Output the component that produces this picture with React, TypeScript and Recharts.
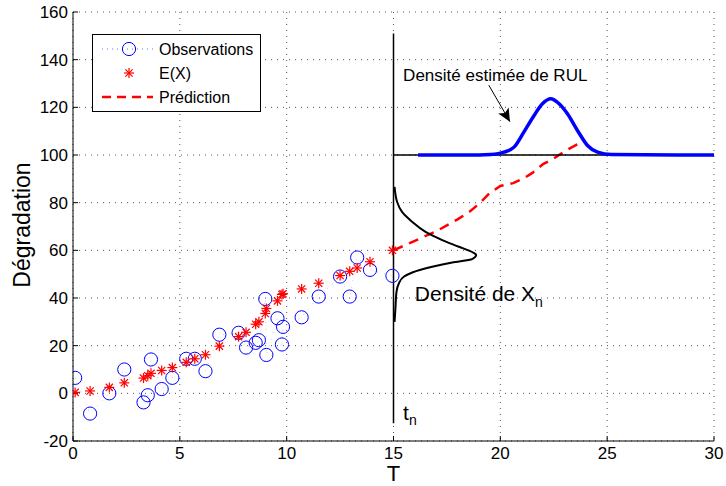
import {
  ComposedChart,
  Line,
  XAxis,
  YAxis,
  CartesianGrid,
  ReferenceDot,
} from "recharts"

// observations and filter estimate share the same time stamps
const times = [
  0.1, 0.8, 1.7, 2.4, 3.3, 3.5, 3.65, 4.15, 4.65, 5.3, 5.7, 6.2, 6.85, 7.75,
  8.1, 8.55, 8.7, 9.0, 9.05, 9.57, 9.78, 9.83, 10.7, 11.5, 12.5, 12.95, 13.3,
  13.9, 14.95,
]
const observations = [
  6.5, -8.5, 0, 10, -3.8, -0.8, 14.2, 1.8, 6.5, 14.5, 14.5, 9.3, 24.6, 25.4,
  19.2, 21.2, 22.3, 39.6, 16.1, 31.5, 20.5, 27.9, 31.9, 40.6, 49, 40.6, 57,
  51.8, 49.3,
]
const expected = [
  0.4, 1, 2.5, 4.4, 6.4, 7.4, 8.4, 9.6, 10.8, 13, 14.5, 16.2, 19.8, 23.8, 25.6,
  29, 30, 33.5, 35.6, 38.8, 41.5, 41.8, 43.8, 46.2, 49.4, 51.2, 52.6, 55.2, 60,
]

const predT = [15, 16, 17, 18, 18.6, 19, 19.5, 20, 20.6, 21.1, 21.5, 22, 22.5, 23, 23.75]
const predY = [60, 64, 68, 73, 76.5, 79.5, 84, 87, 88.2, 90.2, 92.5, 96.2, 98.5, 101.5, 105.2]

// density of X_n drawn sideways at t_n (bottom to top)
const xnX = [15.05, 15.09, 15.14, 15.25, 15.48, 15.88, 16.81, 17.75, 18.68, 18.87, 18.72, 18.06, 17.28, 16.5, 15.88, 15.4, 15.17, 15.05]
const xnY = [30, 35.6, 42.6, 46.1, 48.9, 50.7, 53.1, 54.9, 56.3, 58, 59.1, 61.5, 64.3, 67.7, 71.9, 76.1, 80.3, 86.6]

// estimated RUL density on the threshold line
const rulX = [16.15, 19.0, 19.55, 20.17, 20.64, 21.1, 21.58, 21.97, 22.36, 22.75, 23.14, 23.61, 24.08, 24.55, 25.2, 30]
const rulY = [100, 100, 100.2, 101.2, 103.3, 109.6, 116.6, 121.5, 123.6, 121.5, 117.3, 110.3, 104, 101.2, 100.2, 100]

const tnLine = [-12.5, 151]
const thresholdX = [15, 28.1]
const threshold = 100
const arrowX = [19.46, 20.45]
const arrowY = [129.3, 114]

const xTicks = [0, 5, 10, 15, 20, 25, 30]
const yTicks = [-20, 0, 20, 40, 60, 80, 100, 120, 140, 160]

const FONT = "'Liberation Sans', Arial, Helvetica, sans-serif"

const obsData = times.map((x, i) => ({ x, y: observations[i] }))
const expData = times.map((x, i) => ({ x, y: expected[i] }))
const predData = predT.map((x, i) => ({ x, y: predY[i] }))
const xnData = xnX.map((x, i) => ({ x, y: xnY[i] }))
const rulData = rulX.map((x, i) => ({ x, y: rulY[i] }))
const tnData = tnLine.map((y) => ({ x: 15, y }))
const thrData = thresholdX.map((x) => ({ x, y: threshold }))
const arrowData = arrowX.map((x, i) => ({ x, y: arrowY[i] }))

// eslint-disable-next-line @typescript-eslint/no-explicit-any
function CircleDot(props: any) {
  const { cx, cy, index } = props
  if (cx == null || cy == null) return null
  return <circle key={index} cx={cx} cy={cy} r={6.6} fill="none" stroke="#0000ff" strokeWidth={1} />
}

function Star({ cx, cy }: { cx: number; cy: number }) {
  const a = 5
  const d = 3.6
  return (
    <g stroke="#ff0000" strokeWidth={1.2}>
      <line x1={cx - a} y1={cy} x2={cx + a} y2={cy} />
      <line x1={cx} y1={cy - a} x2={cx} y2={cy + a} />
      <line x1={cx - d} y1={cy - d} x2={cx + d} y2={cy + d} />
      <line x1={cx - d} y1={cy + d} x2={cx + d} y2={cy - d} />
    </g>
  )
}

// eslint-disable-next-line @typescript-eslint/no-explicit-any
function StarDot(props: any) {
  const { cx, cy, index } = props
  if (cx == null || cy == null) return null
  return <Star key={index} cx={cx} cy={cy} />
}

// eslint-disable-next-line @typescript-eslint/no-explicit-any
function ArrowHead(props: any) {
  const { cx, cy, index } = props
  if (index !== 1 || cx == null) return <g key={index} />
  const ang = 60
  return (
    <polygon
      key={index}
      points="0,0 -13,-6 -10,0 -13,6"
      fill="#000"
      transform={`translate(${cx},${cy}) rotate(${ang})`}
    />
  )
}

// eslint-disable-next-line @typescript-eslint/no-explicit-any
function YLabel(_props: any) {
  return (
    <text
      transform="translate(30,225) rotate(-90)"
      textAnchor="middle"
      fontSize={23}
      fontFamily={FONT}
      fill="#000"
    >
      Dégradation
    </text>
  )
}

function Legend() {
  return (
    <svg
      width={169}
      height={78}
      style={{ position: "absolute", left: 92, top: 34 }}
    >
      <rect x={0.5} y={0.5} width={168} height={77} fill="#fff" stroke="#000" strokeWidth={1} />
      <g fontFamily={FONT} fontSize={16} fill="#000">
        <line x1={10} y1={15} x2={61} y2={15} stroke="#6f6fff" strokeDasharray="1 4" />
        <circle cx={37} cy={15} r={6.6} fill="none" stroke="#0000ff" />
        <text x={67} y={21}>Observations</text>
        <Star cx={37} cy={39} />
        <text x={67} y={45}>E(X)</text>
        <line x1={10} y1={63} x2={61} y2={63} stroke="#ff0000" strokeWidth={2.5} strokeDasharray="9 6" />
        <text x={67} y={69}>Prédiction</text>
      </g>
    </svg>
  )
}

const tickStyle = { fill: "#000", fontSize: 17, fontFamily: FONT }
const axisStroke = { stroke: "#000", strokeWidth: 1 }

export default function App() {
  return (
    <div style={{ position: "relative", width: 726, height: 486, background: "#fff" }}>
      <style>{"body{margin:0}"}</style>
      <ComposedChart
        width={726}
        height={486}
        margin={{ top: 12, right: 12, left: 0, bottom: 0 }}
      >
        <XAxis
          xAxisId="b"
          type="number"
          dataKey="x"
          domain={[0, 30]}
          ticks={xTicks}
          allowDataOverflow
          height={45}
          tickSize={-5}
          tickMargin={11}
          tick={tickStyle}
          axisLine={axisStroke}
          tickLine={axisStroke}
          label={{ value: "T", position: "insideBottom", offset: 5, fontSize: 22, fill: "#000", fontFamily: FONT }}
        />
        <XAxis
          xAxisId="t"
          orientation="top"
          type="number"
          dataKey="x"
          domain={[0, 30]}
          ticks={xTicks}
          allowDataOverflow
          height={0}
          tickSize={-5}
          tick={false}
          axisLine={axisStroke}
          tickLine={axisStroke}
        />
        <YAxis
          yAxisId="l"
          type="number"
          dataKey="y"
          domain={[-20, 160]}
          ticks={yTicks}
          allowDataOverflow
          width={73}
          tickSize={-5}
          tickMargin={10}
          tick={tickStyle}
          axisLine={axisStroke}
          tickLine={axisStroke}
          label={<YLabel />}
        />
        <YAxis
          yAxisId="r"
          orientation="right"
          type="number"
          dataKey="y"
          domain={[-20, 160]}
          ticks={yTicks}
          allowDataOverflow
          width={0}
          tickSize={-5}
          tick={false}
          axisLine={axisStroke}
          tickLine={axisStroke}
        />
        <CartesianGrid
          xAxisId="b"
          yAxisId="l"
          stroke="#555"
          strokeDasharray="1 5"
        />
        <Line
          xAxisId="b"
          yAxisId="l"
          data={obsData}
          dataKey="y"
          type="linear"
          stroke="#6f6fff"
          strokeOpacity={0.4}
          strokeDasharray="1 6"
          strokeWidth={1}
          dot={CircleDot}
          activeDot={false}
          isAnimationActive={false}
        />
        <Line
          xAxisId="b"
          yAxisId="l"
          data={expData}
          dataKey="y"
          type="linear"
          stroke="none"
          dot={StarDot}
          activeDot={false}
          isAnimationActive={false}
        />
        <Line
          xAxisId="b"
          yAxisId="l"
          data={predData}
          dataKey="y"
          type="linear"
          stroke="#ff0000"
          strokeWidth={2.5}
          strokeDasharray="10 7"
          dot={false}
          activeDot={false}
          isAnimationActive={false}
        />
        <Line
          xAxisId="b"
          yAxisId="l"
          data={tnData}
          dataKey="y"
          type="linear"
          stroke="#000"
          strokeWidth={1.5}
          dot={false}
          activeDot={false}
          isAnimationActive={false}
        />
        <Line
          xAxisId="b"
          yAxisId="l"
          data={xnData}
          dataKey="y"
          type="monotoneY"
          stroke="#000"
          strokeWidth={2}
          dot={false}
          activeDot={false}
          isAnimationActive={false}
        />
        <Line
          xAxisId="b"
          yAxisId="l"
          data={thrData}
          dataKey="y"
          type="linear"
          stroke="#000"
          strokeWidth={1.5}
          dot={false}
          activeDot={false}
          isAnimationActive={false}
        />
        <Line
          xAxisId="b"
          yAxisId="l"
          data={rulData}
          dataKey="y"
          type="monotone"
          stroke="#0000ff"
          strokeWidth={3.5}
          dot={false}
          activeDot={false}
          isAnimationActive={false}
        />
        <Line
          xAxisId="b"
          yAxisId="l"
          data={arrowData}
          dataKey="y"
          type="linear"
          stroke="#000"
          strokeWidth={1}
          dot={ArrowHead}
          activeDot={false}
          isAnimationActive={false}
        />
        <ReferenceDot
          xAxisId="b"
          yAxisId="l"
          x={15.45}
          y={131}
          shape={(p: { cx: number; cy: number }) => (
            <text x={p.cx} y={p.cy} fontSize={17} fontFamily={FONT} fill="#000">
              Densité estimée de RUL
            </text>
          )}
        />
        <ReferenceDot
          xAxisId="b"
          yAxisId="l"
          x={16.0}
          y={38.8}
          shape={(p: { cx: number; cy: number }) => (
            <text x={p.cx} y={p.cy} fontSize={21} fontFamily={FONT} fill="#000">
              Densité de X
              <tspan fontSize={14} dy={6}>n</tspan>
            </text>
          )}
        />
        <ReferenceDot
          xAxisId="b"
          yAxisId="l"
          x={15.45}
          y={-11.3}
          shape={(p: { cx: number; cy: number }) => (
            <text x={p.cx} y={p.cy} fontSize={21} fontFamily={FONT} fill="#000">
              t
              <tspan fontSize={14} dy={5}>n</tspan>
            </text>
          )}
        />
      </ComposedChart>
      <Legend />
    </div>
  )
}
